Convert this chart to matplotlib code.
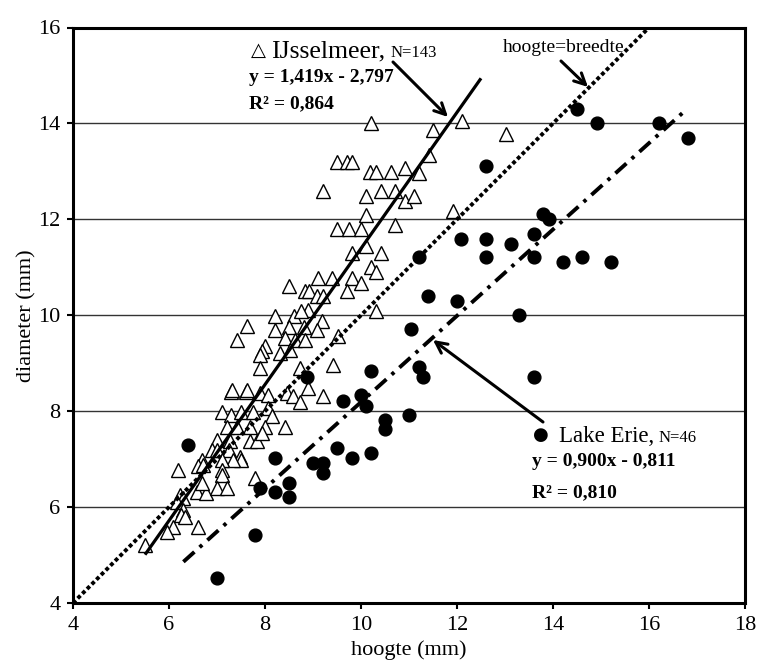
import numpy as np
import matplotlib
matplotlib.use("Agg")
import matplotlib.pyplot as plt

plt.rcParams['font.family'] = ['Liberation Serif', 'DejaVu Sans']

# IJsselmeer (open triangles): hoogte (mm), diameter (mm)
ijssel_hoogte = [
    10.20, 11.51, 12.10, 13.03, 11.42, 9.51, 9.70, 9.82, 10.19, 10.31,
    10.62, 10.92, 11.21, 9.20, 10.10, 10.41, 10.71, 10.92, 11.10, 11.92,
    10.10, 10.71, 9.51, 9.74, 9.99, 10.10, 9.82, 10.41, 10.20, 10.31,
    9.11, 9.40, 9.82, 10.00, 9.71, 8.51, 8.83, 8.92, 9.08, 9.21,
    10.31, 8.21, 8.60, 8.90, 9.18, 8.76, 7.62, 8.21, 8.51, 8.81,
    9.09, 7.41, 8.42, 8.63, 8.83, 8.00, 7.93, 7.90, 8.31, 8.52,
    9.53, 9.41, 7.90, 8.72, 8.90, 9.20, 7.30, 7.31, 7.61, 7.62,
    7.90, 8.07, 8.45, 8.59, 8.73, 7.10, 7.30, 7.51, 7.76, 8.07,
    8.14, 7.20, 7.41, 7.69, 8.00, 8.42, 6.99, 7.27, 7.69, 7.83,
    7.93, 6.89, 6.99, 7.24, 7.48, 7.51, 7.34, 7.10, 6.68, 6.61,
    6.71, 6.19, 7.10, 7.10, 7.79, 6.58, 6.78, 6.99, 7.20, 6.68,
    6.23, 6.30, 6.16, 6.30, 6.26, 6.33, 6.09, 5.95, 6.61, 5.50,
]
ijssel_diameter = [
    14.00, 13.87, 14.06, 13.77, 13.35, 13.20, 13.20, 13.20, 12.98, 12.98,
    12.98, 13.07, 12.96, 12.59, 12.48, 12.59, 12.59, 12.38, 12.48, 12.18,
    12.08, 11.89, 11.80, 11.80, 11.80, 11.45, 11.29, 11.29, 11.00, 10.90,
    10.78, 10.78, 10.78, 10.68, 10.50, 10.60, 10.50, 10.50, 10.40, 10.40,
    10.08, 9.99, 9.99, 10.10, 9.89, 10.08, 9.78, 9.70, 9.75, 9.75,
    9.69, 9.49, 9.52, 9.49, 9.48, 9.35, 9.25, 9.18, 9.21, 9.28,
    9.57, 8.97, 8.91, 8.89, 8.48, 8.31, 8.41, 8.44, 8.41, 8.44,
    8.38, 8.34, 8.38, 8.31, 8.20, 7.99, 7.92, 7.99, 7.99, 8.06,
    7.89, 7.68, 7.68, 7.68, 7.68, 7.68, 7.40, 7.37, 7.37, 7.37,
    7.54, 7.19, 7.19, 7.19, 7.05, 6.99, 6.99, 6.99, 6.99, 6.85,
    6.88, 6.78, 6.78, 6.67, 6.60, 6.32, 6.29, 6.39, 6.39, 6.50,
    6.25, 6.19, 6.11, 5.94, 5.84, 5.80, 5.59, 5.49, 5.59, 5.21,
]

# Lake Erie (filled circles)
erie_hoogte = [
    6.40, 6.99, 7.79, 7.90, 8.21, 8.21, 8.51, 8.51, 8.88, 8.99,
    9.21, 9.21, 9.49, 9.62, 9.81, 9.99, 10.10, 10.20, 10.20, 10.50,
    10.50, 10.99, 11.05, 11.21, 11.30, 13.60, 14.49, 14.91, 16.21, 16.81,
    12.60, 13.80, 13.92, 12.08, 12.60, 13.12, 13.60, 12.60, 13.60, 14.21,
    14.60, 15.21, 11.40, 12.01, 13.29, 11.20,
]
erie_diameter = [
    7.30, 4.53, 5.42, 6.39, 7.02, 6.32, 6.51, 6.22, 8.71, 6.92,
    6.92, 6.72, 7.24, 8.22, 7.02, 8.33, 8.10, 8.83, 7.13, 7.82,
    7.63, 7.92, 9.71, 8.93, 8.71, 8.71, 14.31, 14.01, 14.01, 13.70,
    13.11, 12.11, 12.00, 11.60, 11.60, 11.49, 11.70, 11.21, 11.21, 11.10,
    11.21, 11.10, 10.41, 10.30, 10.01, 11.21,
]

# Regression / reference lines
ijssel_slope, ijssel_intercept = 1.419, -2.797
ijssel_range = [5.5, 12.5]
erie_slope, erie_intercept = 0.900, -0.811
erie_range = [6.3, 16.8]
identity_range = [4.0, 16.0]

x_ticks = [4, 6, 8, 10, 12, 14, 16, 18]
y_ticks = [4, 6, 8, 10, 12, 14, 16]

W, H = 760, 666
fig = plt.figure(figsize=(W / 100, H / 100), dpi=100)
L, R, T, B = 73, 745, 27.5, 603
ax = fig.add_axes([L / W, 1 - B / H, (R - L) / W, (B - T) / H])
ax.set_xlim(4, 18)
ax.set_ylim(4, 16)


def D(px, py):
    """pixel position in the figure -> data coordinates (for annotations)"""
    return (4 + (px - L) / ((R - L) / 14.0), 4 + (B - py) / ((B - T) / 12.0))


ax.set_xticks(x_ticks)
ax.set_yticks(y_ticks)
ax.tick_params(axis='both', labelsize=16, direction='out', length=4, width=1.5, pad=5)
ax.yaxis.grid(True, color='#333333', lw=1.0, zorder=0)
ax.set_axisbelow(True)
for s in ax.spines.values():
    s.set_linewidth(2.2)

ax.plot(ijssel_hoogte, ijssel_diameter, linestyle='none', marker='^', markersize=9.5,
        markerfacecolor='white', markeredgecolor='black', markeredgewidth=1.0, zorder=2)
ax.plot(erie_hoogte, erie_diameter, linestyle='none', marker='o', markersize=9.2,
        markerfacecolor='black', markeredgecolor='black', zorder=2)

xi = np.array(ijssel_range)
ax.plot(xi, ijssel_slope * xi + ijssel_intercept, color='black', lw=2.3,
        solid_capstyle='butt', zorder=3)
xe = np.array(erie_range)
ax.plot(xe, erie_slope * xe + erie_intercept, color='black', lw=2.8,
        dashes=(3.8, 1.8, 0.9, 1.8), dash_capstyle='butt', zorder=3)
xd = np.array(identity_range)
ax.plot(xd, xd, color='black', lw=2.8, dashes=(1.0, 0.7), dash_capstyle='butt', zorder=3)

ax.set_xlabel('hoogte (mm)', fontsize=16, labelpad=4)
ax.set_ylabel('diameter (mm)', fontsize=16, labelpad=1)

# IJsselmeer annotation
ax.text(*D(258, 50), '\u25b3', fontsize=14, family=['DejaVu Sans'], ha='center', va='center')
ax.text(*D(271, 57), 'IJsselmeer,', fontsize=18.5, ha='left', va='baseline')
ax.text(*D(391, 57), 'N=143', fontsize=12, ha='left', va='baseline')
ax.text(*D(249, 78), 'y = 1,419x - 2,797', fontsize=14, fontweight='bold', ha='left', va='center')
ax.text(*D(249, 104), 'R\u00b2 = 0,864', fontsize=14, fontweight='bold', ha='left', va='center')
ax.annotate('', xy=D(448, 117), xytext=D(393, 62),
            arrowprops=dict(arrowstyle='->', lw=2.2, color='black', mutation_scale=20,
                            shrinkA=0, shrinkB=0))

# hoogte = breedte annotation
ax.text(*D(503, 47), 'hoogte=breedte', fontsize=14, ha='left', va='center')
ax.annotate('', xy=D(588, 87), xytext=D(561, 61),
            arrowprops=dict(arrowstyle='->', lw=2.2, color='black', mutation_scale=20,
                            shrinkA=0, shrinkB=0))

# Lake Erie annotation
ax.text(*D(541, 435), '\u25cf', fontsize=13, family=['DejaVu Sans'], ha='center', va='center')
ax.text(*D(559, 441.5), 'Lake Erie,', fontsize=16.5, ha='left', va='baseline')
ax.text(*D(659, 441.5), 'N=46', fontsize=12, ha='left', va='baseline')
ax.text(*D(532, 462), 'y = 0,900x - 0,811', fontsize=14, fontweight='bold', ha='left', va='center')
ax.text(*D(532, 493), 'R\u00b2 = 0,810', fontsize=14, fontweight='bold', ha='left', va='center')
ax.annotate('', xy=D(433, 340), xytext=D(543, 422),
            arrowprops=dict(arrowstyle='->', lw=2.2, color='black', mutation_scale=20,
                            shrinkA=0, shrinkB=0))

fig.savefig('out.png', dpi=100)
